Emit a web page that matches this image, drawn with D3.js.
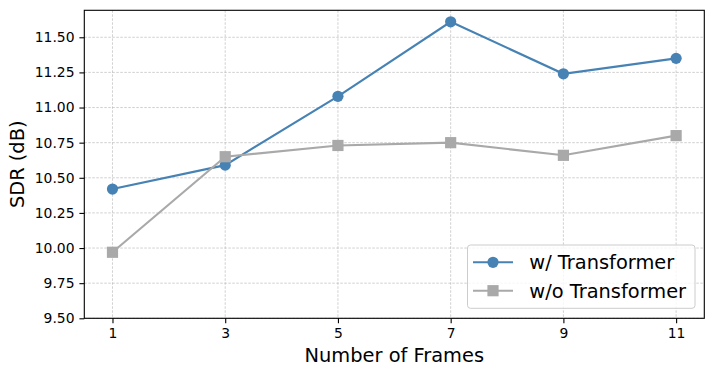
<!DOCTYPE html>
<html><head><meta charset="utf-8">
<script src="https://cdn.jsdelivr.net/npm/d3@7"></script>
<style>body{margin:0;background:#fff}svg{display:block;font-family:"DejaVu Sans",sans-serif}</style>
</head><body>
<script>
const frames = [1, 3, 5, 7, 9, 11];
const withTransformer = [10.42, 10.59, 11.08, 11.61, 11.24, 11.35];
const withoutTransformer = [9.97, 10.65, 10.73, 10.75, 10.66, 10.80];
const yTicks = [9.50, 9.75, 10.00, 10.25, 10.50, 10.75, 11.00, 11.25, 11.50];
const seriesNames = ["w/ Transformer", "w/o Transformer"];

const W = 714, H = 376;
const m = {l: 84.3, r: 704.3, t: 10.3, b: 318.3};
const svg = d3.select("body").append("svg").attr("width", W).attr("height", H);
const x = d3.scaleLinear().domain([0.5, 11.5]).range([m.l, m.r]);
const y = d3.scaleLinear().domain([9.5, 11.692]).range([m.b, m.t]);

// grid
const g = svg.append("g");
g.selectAll("line.gx").data(frames).enter().append("line")
  .attr("x1", d => x(d)).attr("x2", d => x(d)).attr("y1", m.t).attr("y2", m.b)
  .attr("stroke", "#b0b0b0").attr("stroke-width", 0.6).attr("stroke-dasharray", "2.5,1.5");
g.selectAll("line.gy").data(yTicks).enter().append("line")
  .attr("y1", d => y(d)).attr("y2", d => y(d)).attr("x1", m.l).attr("x2", m.r)
  .attr("stroke", "#b0b0b0").attr("stroke-width", 0.6).attr("stroke-dasharray", "2.5,1.5");

// axes
const xAxis = d3.axisBottom(x).tickValues(frames).tickFormat(d3.format("d")).tickSize(4.9).tickPadding(4.9);
const yAxis = d3.axisLeft(y).tickValues(yTicks).tickFormat(d3.format(".2f")).tickSize(4.9).tickPadding(4.9);
const ax = svg.append("g").attr("transform", `translate(0,${m.b})`).call(xAxis);
const ay = svg.append("g").attr("transform", `translate(${m.l},0)`).call(yAxis);
[ax, ay].forEach(a => {
  a.select(".domain").remove();
  a.selectAll("text").attr("font-size", "13.9px").attr("fill", "#000").attr("font-family", "DejaVu Sans");
  a.selectAll("line").attr("stroke", "#000").attr("stroke-width", 1.1);
});
svg.append("rect").attr("x", m.l).attr("y", m.t).attr("width", m.r - m.l).attr("height", m.b - m.t)
  .attr("fill", "none").attr("stroke", "#000").attr("stroke-width", 1.1);

// lines
const line = d3.line().x((d, i) => x(frames[i])).y(d => y(d));
const colors = ["#4682b4", "#a9a9a9"];
svg.append("path").datum(withTransformer).attr("d", line).attr("fill", "none").attr("stroke", colors[0]).attr("stroke-width", 2.1);
svg.selectAll("circle.pt").data(withTransformer).enter().append("circle")
  .attr("cx", (d, i) => x(frames[i])).attr("cy", d => y(d)).attr("r", 5.6).attr("fill", colors[0]);
svg.append("path").datum(withoutTransformer).attr("d", line).attr("fill", "none").attr("stroke", colors[1]).attr("stroke-width", 2.1);
svg.selectAll("rect.sq").data(withoutTransformer).enter().append("rect")
  .attr("x", (d, i) => x(frames[i]) - 5.6).attr("y", d => y(d) - 5.6).attr("width", 11.2).attr("height", 11.2)
  .attr("fill", colors[1]);

// labels
svg.append("text").attr("x", (m.l + m.r) / 2).attr("y", 362).attr("text-anchor", "middle")
  .attr("font-size", "19.4px").text("Number of Frames");
svg.append("text").attr("transform", `translate(24,${(m.t + m.b) / 2}) rotate(-90)`).attr("text-anchor", "middle")
  .attr("font-size", "19.4px").text("SDR (dB)");

// legend
const lg = svg.append("g");
lg.append("rect").attr("x", 467.5).attr("y", 245).attr("width", 227.5).attr("height", 63.3).attr("rx", 3)
  .attr("fill", "rgba(255,255,255,0.8)").attr("stroke", "#cccccc").attr("stroke-width", 1);
const rows = [262.3, 290.7];
seriesNames.forEach((n, i) => {
  lg.append("line").attr("x1", 473).attr("x2", 513).attr("y1", rows[i]).attr("y2", rows[i]).attr("stroke", colors[i]).attr("stroke-width", 2.1);
  if (i === 0) lg.append("circle").attr("cx", 493).attr("cy", rows[i]).attr("r", 5.6).attr("fill", colors[i]);
  else lg.append("rect").attr("x", 493 - 5.6).attr("y", rows[i] - 5.6).attr("width", 11.2).attr("height", 11.2).attr("fill", colors[i]);
  lg.append("text").attr("x", 529.3).attr("y", rows[i]).attr("dy", "0.36em").attr("font-size", "19.4px").text(n);
});
</script>
</body></html>
